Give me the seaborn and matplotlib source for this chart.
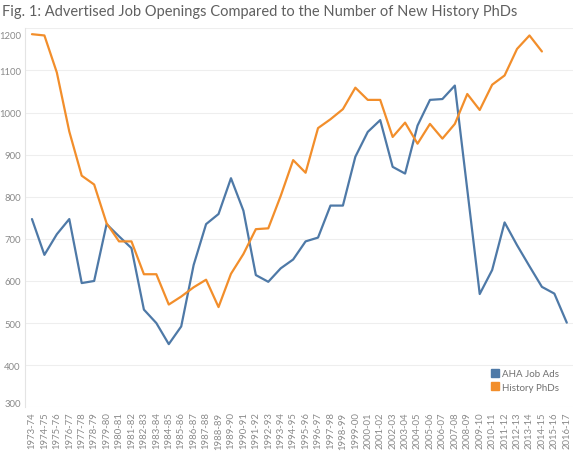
import numpy as np
import pandas as pd
import matplotlib
matplotlib.use("Agg")
import matplotlib.pyplot as plt
import matplotlib.transforms as mtransforms
from matplotlib.lines import Line2D
import seaborn as sns

years = ["1973-74", "1974-75", "1975-76", "1976-77", "1977-78", "1978-79", "1979-80",
         "1980-81", "1981-82", "1982-83", "1983-84", "1984-85", "1985-86", "1986-87",
         "1987-88", "1988-89", "1989-90", "1990-91", "1991-92", "1992-93", "1993-94",
         "1994-95", "1995-96", "1996-97", "1997-98", "1998-99", "1999-00", "2000-01",
         "2001-02", "2002-03", "2003-04", "2004-05", "2005-06", "2006-07", "2007-08",
         "2008-09", "2009-10", "2010-11", "2011-12", "2012-13", "2013-14", "2014-15",
         "2015-16", "2016-17"]

aha_job_ads = [747, 662, 711, 747, 595, 600, 735, 706, 678, 532, 500, 450, 492, 638,
               735, 759, 844, 767, 614, 598, 630, 651, 694, 703, 779, 779, 895, 954,
               982, 871, 855, 969, 1030, 1032, 1064, 817, 569, 626, 739, 685, 635, 586,
               570, 501]

history_phds = [1186, 1183, 1095, 955, 850, 829, 737, 694, 694, 616, 616, 544, 563, 585,
                603, 538, 617, 664, 723, 725, 802, 887, 857, 963, 984, 1008, 1059, 1030,
                1030, 942, 976, 926, 973, 938, 973, 1044, 1006, 1066, 1088, 1151, 1183,
                1145]

series_names = ["AHA Job Ads", "History PhDs"]
colors = ["#4E79A7", "#F28E2B"]
y_ticks = [300, 400, 500, 600, 700, 800, 900, 1000, 1100, 1200]
title = "Fig. 1: Advertised Job Openings Compared to the Number of New History PhDs"

rows = []
for yr, v in zip(years, aha_job_ads):
    rows.append({"year": yr, "value": v, "series": series_names[0]})
for yr, v in zip(years, history_phds):
    rows.append({"year": yr, "value": v, "series": series_names[1]})
df = pd.DataFrame(rows)
df["year"] = pd.Categorical(df["year"], categories=years, ordered=True)
df["pos"] = df["year"].cat.codes

sns.set_style("white")
plt.rcParams["font.family"] = ["Lato", "DejaVu Sans"]

W, H = 573, 456
fig = plt.figure(figsize=(W / 100, H / 100), dpi=100)
ax = fig.add_axes([25 / W, 1 - 408.3 / H, (573 - 25) / W, (408.3 - 29.3) / H])

sns.lineplot(data=df, x="pos", y="value", hue="series", palette=colors,
             hue_order=series_names, linewidth=1.6, ax=ax, legend=False, sort=True)

ax.set_xlim(-0.56, 43.5)
ax.set_ylim(300, 1200)
ax.set_yticks(y_ticks)
ax.set_yticklabels([str(t) for t in y_ticks])
ax.set_xticks(range(len(years)))
ax.set_xticklabels(years, rotation=90)
ax.set_xlabel("")
ax.set_ylabel("")

ax.grid(axis="y", color="#eeeeee", linewidth=0.8)
ax.grid(axis="x", visible=False)
ax.set_axisbelow(True)
for s in ["top", "right", "bottom"]:
    ax.spines[s].set_visible(False)
ax.spines["left"].set_color("#e4e4e4")
ax.spines["left"].set_linewidth(0.8)

ax.tick_params(axis="y", length=0, pad=3, labelsize=6.8, labelcolor="#8a8a8a")
ax.tick_params(axis="x", length=0, pad=3, labelsize=6.8, labelcolor="#8a8a8a")

# Shift the end labels inward like the reference
for lab in ax.get_yticklabels():
    if lab.get_text() == "1200":
        lab.set_transform(lab.get_transform() + mtransforms.ScaledTranslation(0, -6 / 100, fig.dpi_scale_trans))
    if lab.get_text() == "300":
        lab.set_transform(lab.get_transform() + mtransforms.ScaledTranslation(0, 5 / 100, fig.dpi_scale_trans))

handles = [Line2D([0], [0], marker="s", linestyle="none", markersize=6,
                  markerfacecolor=c, markeredgecolor=c) for c in colors]
leg = fig.legend(handles, series_names, loc="upper left",
                 bbox_to_anchor=(490 / W, 1 - 370 / H), frameon=False,
                 fontsize=7, handletextpad=0.25, labelspacing=0.5,
                 handlelength=1.0, borderpad=0, borderaxespad=0)
for t in leg.get_texts():
    t.set_color("#707070")

fig.text(2 / W, 1 - 12 / H, title, fontsize=10.5, color="#606060",
         ha="left", va="center")

fig.savefig("out.png", dpi=100)
